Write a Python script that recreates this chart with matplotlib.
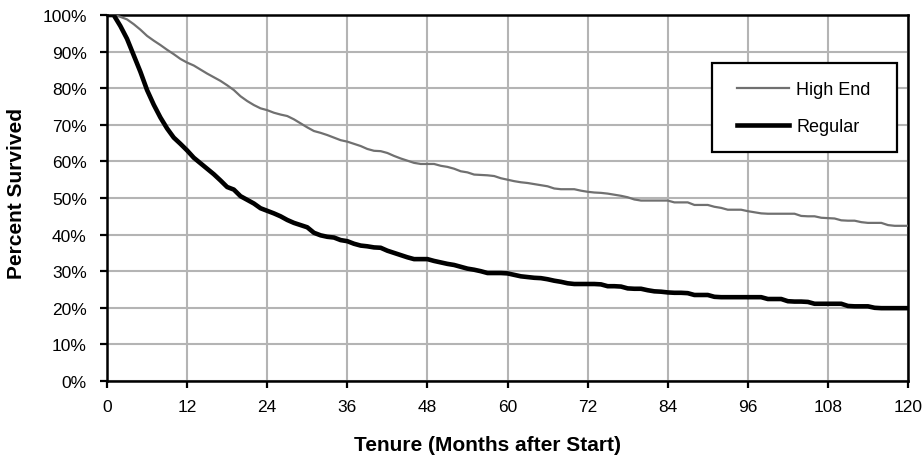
import numpy as np
import matplotlib
matplotlib.use("Agg")
import matplotlib.pyplot as plt
from matplotlib.patches import Rectangle
from matplotlib.ticker import PercentFormatter

plt.rcParams['font.family'] = ['Liberation Sans', 'DejaVu Sans']

# survival by month of tenure (percent)
months = list(range(0, 121))

high_end = [
    100, 100, 99.5, 98.8, 97.5, 96, 94.3, 93, 91.8, 90.5,
    89.3, 88, 87, 86.2, 85.1, 84, 83, 82, 80.8, 79.5,
    77.8, 76.5, 75.4, 74.5, 74, 73.3, 72.8, 72.4, 71.5, 70.4,
    69.3, 68.3, 67.8, 67.2, 66.5, 65.8, 65.4, 64.8, 64.2, 63.4,
    62.9, 62.8, 62.3, 61.5, 60.8, 60.2, 59.6, 59.3, 59.3, 59.3,
    58.8, 58.5, 58, 57.3, 57, 56.4, 56.3, 56.2, 56, 55.4,
    55, 54.6, 54.3, 54.1, 53.8, 53.5, 53.2, 52.6, 52.4, 52.4,
    52.4, 52, 51.7, 51.5, 51.4, 51.2, 50.9, 50.6, 50.2, 49.6,
    49.3, 49.3, 49.3, 49.3, 49.3, 48.8, 48.8, 48.8, 48.1, 48.1,
    48.1, 47.6, 47.3, 46.8, 46.8, 46.8, 46.4, 46.1, 45.8, 45.7,
    45.7, 45.7, 45.7, 45.7, 45.1, 45, 45, 44.6, 44.5, 44.4,
    43.9, 43.8, 43.8, 43.4, 43.2, 43.2, 43.2, 42.6, 42.4, 42.4,
    42.4,
]

regular = [
    100, 100, 97, 93.5, 89, 84.5, 79.5, 75.5, 72, 69,
    66.5, 64.8, 63, 61, 59.5, 58, 56.5, 54.8, 53, 52.3,
    50.5, 49.5, 48.5, 47.2, 46.5, 45.8, 45, 44, 43.2, 42.6,
    42, 40.5, 39.8, 39.4, 39.2, 38.5, 38.2, 37.5, 37, 36.8,
    36.5, 36.4, 35.6, 35, 34.4, 33.8, 33.3, 33.3, 33.3, 32.8,
    32.4, 32, 31.7, 31.2, 30.7, 30.4, 30, 29.5, 29.5, 29.5,
    29.4, 29, 28.6, 28.4, 28.2, 28.1, 27.8, 27.4, 27.1, 26.7,
    26.5, 26.5, 26.5, 26.5, 26.4, 25.9, 25.9, 25.8, 25.3, 25.2,
    25.2, 24.8, 24.5, 24.4, 24.2, 24.1, 24.1, 24.0, 23.5, 23.5,
    23.5, 23.0, 22.9, 22.9, 22.9, 22.9, 22.9, 22.9, 22.9, 22.4,
    22.4, 22.4, 21.8, 21.7, 21.7, 21.6, 21.1, 21.1, 21.1, 21.1,
    21.1, 20.5, 20.4, 20.4, 20.4, 20.0, 19.9, 19.9, 19.9, 19.9,
    19.9,
]

fig = plt.figure(figsize=(9.24, 4.56), dpi=100)
ax = fig.add_axes([0.1158, 0.1623, 0.8669, 0.8026])

ax.plot(months, high_end, color='#707070', linewidth=1.6, label='High End', zorder=3)
ax.plot(months, regular, color='black', linewidth=3.3, label='Regular', zorder=3)

ax.set_xlim(0, 120)
ax.set_ylim(0, 100)
ax.set_xticks(np.arange(0, 121, 12))
ax.set_yticks(np.arange(0, 101, 10))
ax.yaxis.set_major_formatter(PercentFormatter(decimals=0))
ax.grid(True, color='#b4b4b4', linewidth=1.5)
ax.set_axisbelow(True)
for s in ax.spines.values():
    s.set_linewidth(1.8)
    s.set_color('black')
ax.tick_params(direction='out', length=5, width=1.6, labelsize=12.5)
ax.tick_params(axis='y', pad=9.5)
ax.tick_params(axis='x', pad=8)

# axis titles placed where the reference has them
fig.text(488 / 924, 1 - 451 / 456, 'Tenure (Months after Start)', fontsize=15,
         fontweight='bold', ha='center', va='baseline')
fig.text(17 / 924, 1 - 194 / 456, 'Percent Survived', fontsize=15,
         fontweight='bold', ha='center', va='center', rotation=90)

# legend box drawn by hand so its padding can differ per side
ax.add_patch(Rectangle((0.7553, 0.6257), 0.231, 0.2432, transform=ax.transAxes,
                       facecolor='white', edgecolor='black', linewidth=1.6, zorder=4))
leg = ax.legend(loc='center left', bbox_to_anchor=(0.7865, 0.746), borderaxespad=0,
                fontsize=13, handlelength=2.9, handletextpad=0.37, labelspacing=1.1,
                borderpad=0, frameon=False)
leg.set_zorder(5)

plt.savefig('out.png', dpi=100)
